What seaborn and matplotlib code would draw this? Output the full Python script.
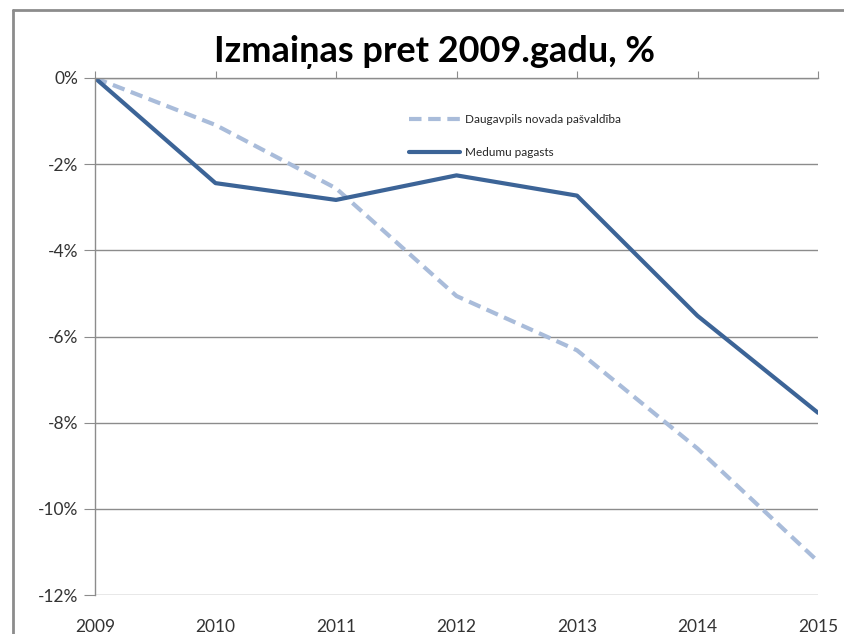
import pandas as pd
import matplotlib.pyplot as plt
import seaborn as sns
from matplotlib.lines import Line2D
from matplotlib.ticker import FuncFormatter

# values (% change vs 2009)
years = [2009, 2010, 2011, 2012, 2013, 2014, 2015]
daugavpils = [0.0, -1.09, -2.56, -5.06, -6.32, -8.6, -11.22]
medumi = [0.0, -2.44, -2.83, -2.26, -2.73, -5.52, -7.77]
series_names = ['Daugavpils novada pašvaldība', 'Medumu pagasts']

df = pd.DataFrame({
    'year': years * 2,
    'value': daugavpils + medumi,
    'series': [series_names[0]] * len(years) + [series_names[1]] * len(years),
})

sns.set_style('white')
plt.rcParams['font.family'] = ['Lato', 'DejaVu Sans']

fig = plt.figure(figsize=(8.45, 6.34), dpi=100)
ax = fig.add_axes([95 / 845, 1 - 595 / 634, (818 - 95) / 845, (595 - 78) / 634])

sns.lineplot(data=df, x='year', y='value', hue='series', style='series',
             palette={series_names[0]: '#A9BCDA', series_names[1]: '#3C6497'},
             dashes={series_names[0]: (3, 1.6), series_names[1]: ''},
             linewidth=3, ax=ax)

ax.set_xlim(2009, 2015)
ax.set_ylim(-12, 0)
ax.set_yticks(range(-12, 1, 2))
ax.set_xticks(years)
ax.yaxis.set_major_formatter(FuncFormatter(lambda v, p: f'{v:.0f}%'))
ax.set_xlabel('')
ax.set_ylabel('')

ax.grid(axis='y', color='#8C8C8C', linewidth=1)
ax.grid(axis='x', visible=False)
for side in ['right', 'bottom']:
    ax.spines[side].set_visible(False)
for side in ['left', 'top']:
    ax.spines[side].set_color('#8C8C8C')
    ax.spines[side].set_linewidth(1)

ax.tick_params(axis='x', top=True, bottom=False, labeltop=False, labelbottom=True,
               direction='out', length=5, color='#8C8C8C', pad=12,
               labelsize=12.5, labelcolor='#333333')
ax.tick_params(axis='y', left=True, direction='out', length=8, color='#8C8C8C',
               pad=4, labelsize=12.5, labelcolor='#333333')

ax.legend(loc='upper left', bbox_to_anchor=(0.42, 0.95), frameon=False,
          fontsize=8.5, handlelength=4.3, labelspacing=1.8, handletextpad=0.4,
          title=None)

fig.text(435 / 845, 1 - 52 / 634, 'Izmaiņas pret 2009.gadu, %', ha='center',
         va='center', fontsize=26, fontweight='bold', color='#000000')

# outer chart border (top and left visible)
fig.add_artist(Line2D([13 / 845, 1], [1 - 10 / 634] * 2, color='#8C8C8C', linewidth=2))
fig.add_artist(Line2D([13 / 845] * 2, [0, 1 - 10 / 634], color='#8C8C8C', linewidth=2))

fig.savefig('out.png', dpi=100)
